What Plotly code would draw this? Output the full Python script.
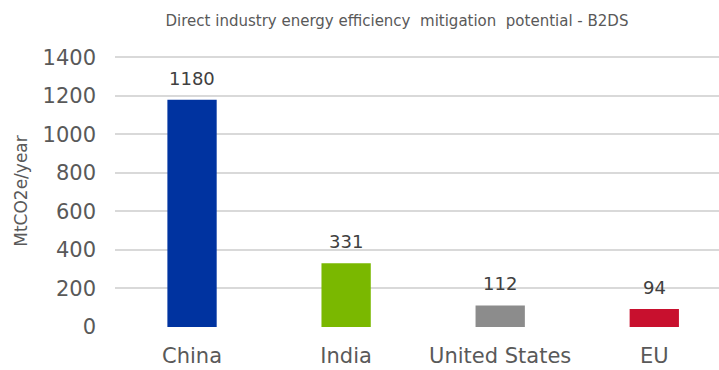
import plotly.graph_objects as go

categories = ["China", "India", "United States", "EU"]
values = [1180, 331, 112, 94]
colors = ["#0033A0", "#7AB800", "#8C8C8C", "#C8102E"]
y_ticks = [0, 200, 400, 600, 800, 1000, 1200, 1400]

FONT = "Verdana, DejaVu Sans, sans-serif"

fig = go.Figure()
fig.add_trace(go.Bar(
    x=list(range(len(categories))), y=values,
    marker=dict(color=colors, line=dict(width=0)),
    width=0.32, hoverinfo="skip",
))

for i, v in enumerate(values):
    fig.add_annotation(x=i, y=v, text=str(v), showarrow=False,
                       yanchor="bottom", yshift=9,
                       font=dict(family=FONT, size=18, color="#404040"))

fig.update_layout(
    width=719, height=370,
    margin=dict(l=115, r=0, t=55, b=43),
    paper_bgcolor="white", plot_bgcolor="white",
    showlegend=False,
    title=dict(text="Direct industry energy efficiency  mitigation  potential - B2DS",
               x=397/719, xanchor="center", y=1-21/370, yanchor="middle",
               font=dict(family=FONT, size=15, color="#595959")),
    xaxis=dict(tickmode="array", tickvals=list(range(len(categories))), ticktext=categories,
               range=[-0.5, 3.42], showgrid=False, zeroline=False, showline=False,
               ticks="", ticklabelstandoff=14,
               tickfont=dict(family=FONT, size=21, color="#595959")),
    yaxis=dict(range=[0, 1412], tickvals=y_ticks, showgrid=True, gridcolor="#D9D9D9",
               gridwidth=1.5, zeroline=False, showline=False, ticks="",
               ticklabelstandoff=18,
               tickfont=dict(family=FONT, size=21, color="#595959"),
               title=dict(text="MtCO2e/year", standoff=10,
                          font=dict(family=FONT, size=17, color="#595959"))),
)

fig.write_html("out.html")
